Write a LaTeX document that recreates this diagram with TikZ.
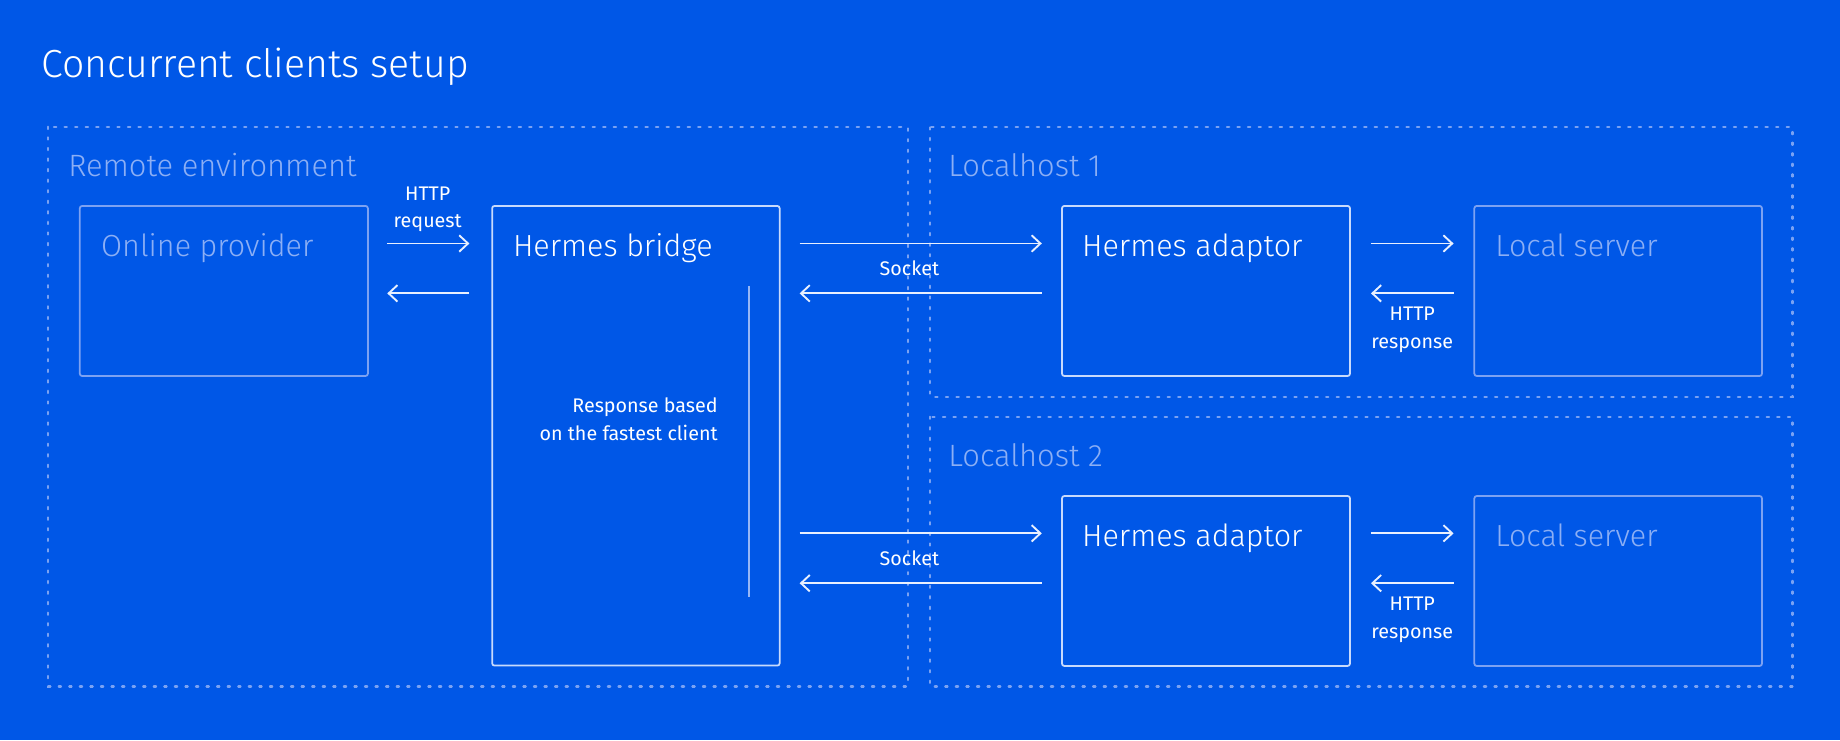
\documentclass[tikz,border=0pt]{standalone}
\usepackage{fontspec}
\setmainfont{Fira Sans Light}
\newfontfamily\regfont{Fira Sans}
\usetikzlibrary{arrows.meta}
\definecolor{bg}{RGB}{0,87,231}
\definecolor{dotc}{RGB}{122,162,243}
\definecolor{faintc}{RGB}{125,162,242}
\definecolor{faintt}{RGB}{140,175,245}
\definecolor{strongc}{RGB}{200,218,252}
\definecolor{arrc}{RGB}{232,240,255}
\definecolor{vlinec}{RGB}{150,182,246}
\tikzset{
  envbox/.style={draw=dotc, line width=1.8pt, dash pattern=on 2pt off 7pt, line cap=round},
  faintbox/.style={draw=faintc, line width=1.5pt, rounded corners=2pt},
  strongbox/.style={draw=strongc, line width=1.5pt, rounded corners=2pt},
  envlabel/.style={anchor=base west, inner sep=0pt, font=\fontsize{26.3}{30}\selectfont, text=faintt},
  boxlabel/.style={anchor=base west, inner sep=0pt, font=\fontsize{26}{30}\selectfont},
  small/.style={inner sep=0pt, font=\regfont\fontsize{16.8}{23.5}\selectfont, text=white},
  conn/.style={draw=arrc, line width=1.6pt, -{Straight Barb[length=7.5pt,width=14pt,line width=1.6pt]}}
}
\begin{document}
\begin{tikzpicture}[x=1pt,y=-1pt]
\fill[bg] (0,0) rectangle (1568,631);
\useasboundingbox (0,0) rectangle (1568,631);
% title
\node[anchor=base west, inner sep=0pt, font=\fontsize{33.4}{40}\selectfont, text=white] (title) at (35,66) {Concurrent clients setup};
% environments
\draw[envbox] (41,108) rectangle (773.5,585);
\draw[envbox] (792.5,108.5) rectangle (1527.5,338);
\draw[envbox] (792.5,355) rectangle (1527.5,585);
\node[envlabel] (remote) at (58,150.6) {Remote environment};
\node[envlabel] (lh1) at (808,150.6) {Localhost 1};
\node[envlabel] (lh2) at (808,397.7) {Localhost 2};
% boxes
\path[faintbox] (68,175.5) rectangle (313.5,320.4);
\path[strongbox] (419.4,175.5) rectangle (664.4,567.2);
\path[strongbox] (905,175.5) rectangle (1150.4,320.4);
\path[faintbox] (1256.4,175.5) rectangle (1501.5,320.4);
\path[strongbox] (905,422.7) rectangle (1150.4,567.5);
\path[faintbox] (1256.4,422.7) rectangle (1501.5,567.5);
\node[boxlabel, text=faintt] (op) at (86,218.5) {Online provider};
\node[boxlabel, text=white] (hb) at (437,218.5) {Hermes bridge};
\node[boxlabel, text=white] (ha1) at (922,218.5) {Hermes adaptor};
\node[boxlabel, text=faintt] (ls1) at (1274,218.5) {Local server};
\node[boxlabel, text=white] (ha2) at (922,465.5) {Hermes adaptor};
\node[boxlabel, text=faintt] (ls2) at (1274,465.5) {Local server};
% vertical line in bridge
\draw[vlinec, line width=1.3pt] (638.3,243.7) -- (638.3,508.5);
\node[small, align=right, anchor=base east] (resp) at (611.8,375) {Response based\\on the fastest client};
% connector end points
\coordinate (a1) at (330,207.5); \coordinate (a2) at (400,207.5);
\coordinate (b1) at (330,250);   \coordinate (b2) at (400,250);
\coordinate (c1) at (681.4,207.5); \coordinate (c2) at (887.8,207.5);
\coordinate (d1) at (681.4,250);   \coordinate (d2) at (887.8,250);
\coordinate (e1) at (1168.3,207.5); \coordinate (e2) at (1238.7,207.5);
\coordinate (f1) at (1168.3,250);   \coordinate (f2) at (1238.7,250);
\coordinate (g1) at (681.4,454.5); \coordinate (g2) at (887.8,454.5);
\coordinate (h1) at (681.4,497);   \coordinate (h2) at (887.8,497);
\coordinate (i1) at (1168.3,454.5); \coordinate (i2) at (1238.7,454.5);
\coordinate (j1) at (1168.3,497);   \coordinate (j2) at (1238.7,497);
\draw[conn] (a1) -- (a2);
\draw[conn] (b2) -- (b1);
\draw[conn] (c1) -- (c2);
\draw[conn] (d2) -- (d1);
\draw[conn] (e1) -- (e2);
\draw[conn] (f2) -- (f1);
\draw[conn] (g1) -- (g2);
\draw[conn] (h2) -- (h1);
\draw[conn] (i1) -- (i2);
\draw[conn] (j2) -- (j1);
% small labels
\node[small, align=center, anchor=base] (httpreq) at (364.5,194) {HTTP\\request};
\node[small, anchor=base] (sock1) at (775,234.5) {Socket};
\node[small, anchor=base] (sock2) at (775,481.5) {Socket};
\node[small, align=center, anchor=base] (httpres1) at (1203.5,296.8) {HTTP\\response};
\node[small, align=center, anchor=base] (httpres2) at (1203.5,543.8) {HTTP\\response};
\end{tikzpicture}
\end{document}
